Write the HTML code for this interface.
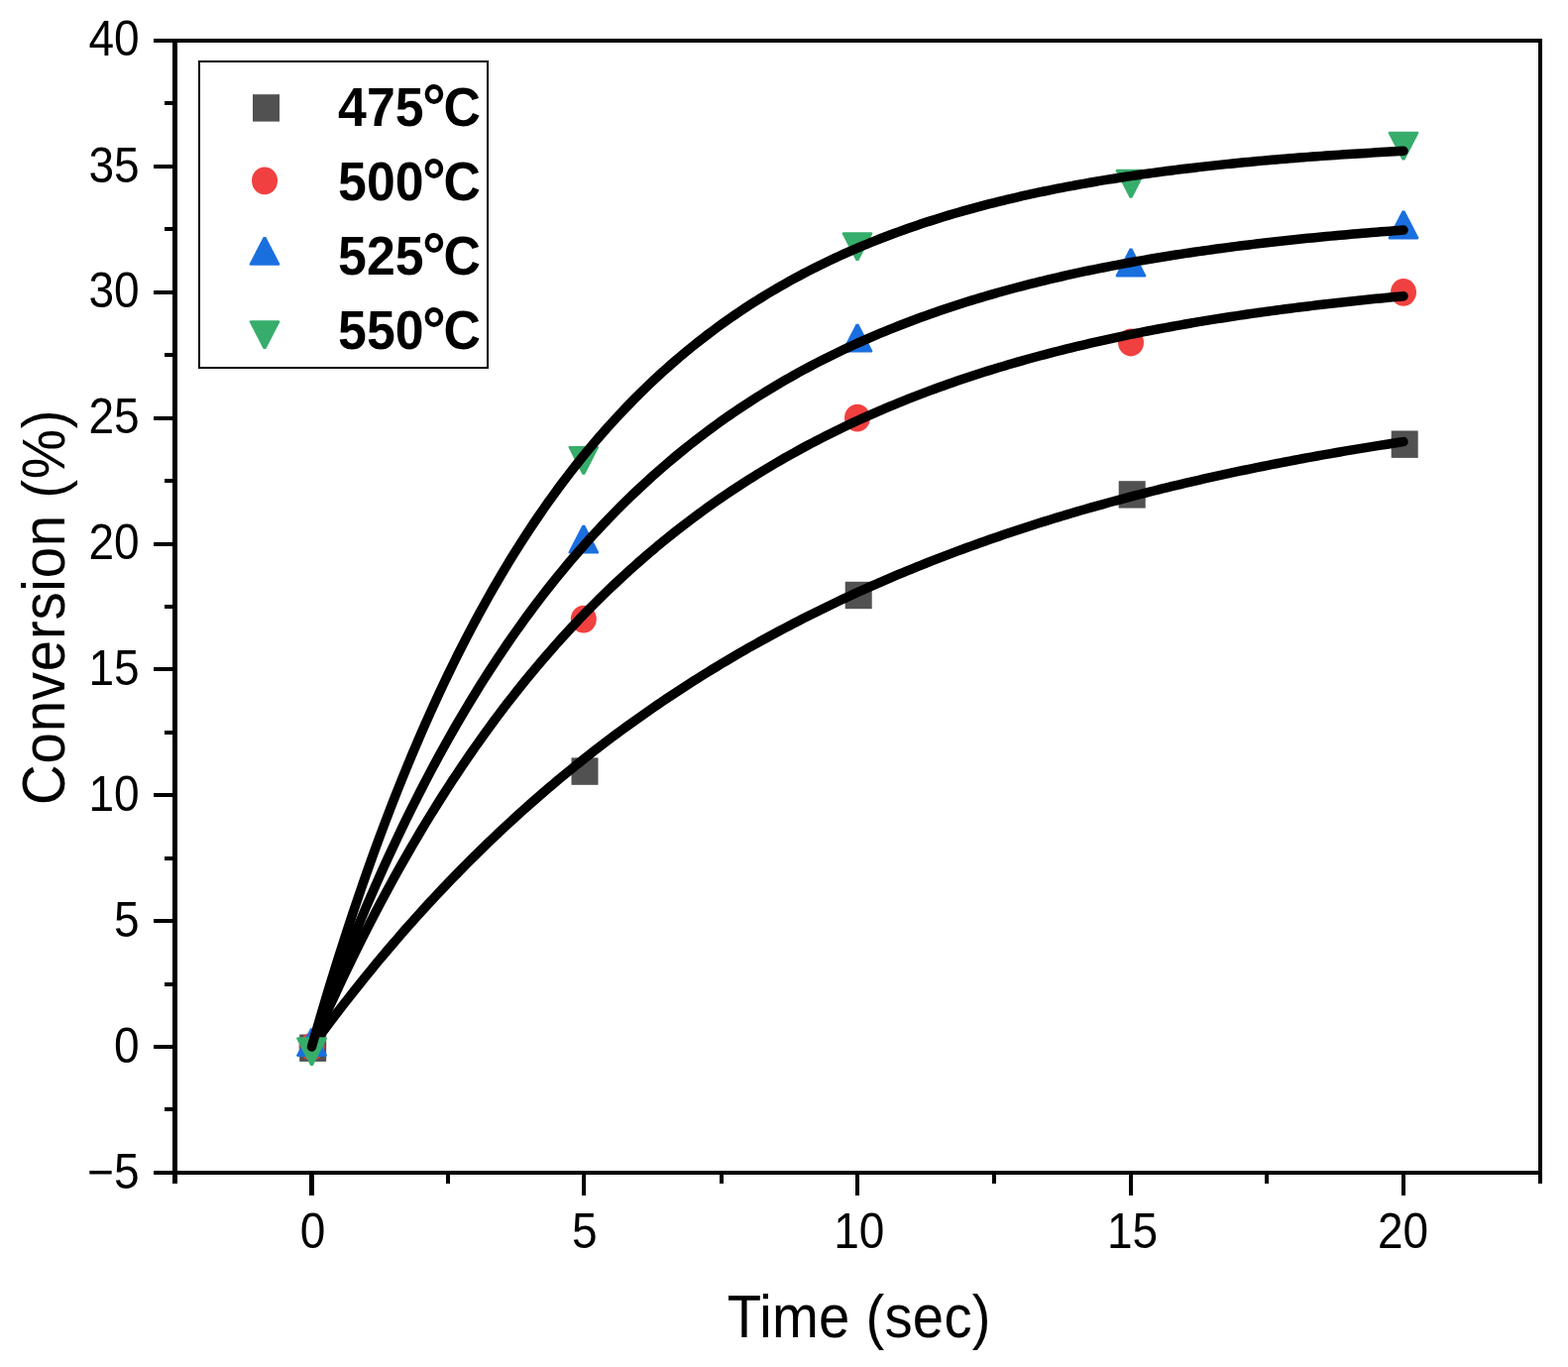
<!DOCTYPE html>
<html><head><meta charset="utf-8"><title>Conversion vs Time</title>
<style>html,body{margin:0;padding:0;background:#fff;width:1582px;height:1379px;overflow:hidden}</style>
</head><body>
<svg width="1582" height="1379" viewBox="0 0 1582 1379" style="display:block">
<rect x="0" y="0" width="1582" height="1379" fill="#fff"/>
<g fill="#000" shape-rendering="crispEdges">
<rect x="174" y="39" width="5" height="1155"/>
<rect x="1552" y="39" width="4" height="1155"/>
<rect x="155" y="39" width="1401" height="4"/>
<rect x="155" y="1181" width="1401" height="4"/>
<rect x="166" y="1117.4" width="8" height="4"/>
<rect x="155" y="1054.0" width="19" height="4"/>
<rect x="166" y="990.6" width="8" height="4"/>
<rect x="155" y="927.1" width="19" height="4"/>
<rect x="166" y="863.7" width="8" height="4"/>
<rect x="155" y="800.2" width="19" height="4"/>
<rect x="166" y="736.8" width="8" height="4"/>
<rect x="155" y="673.4" width="19" height="4"/>
<rect x="166" y="609.9" width="8" height="4"/>
<rect x="155" y="546.5" width="19" height="4"/>
<rect x="166" y="483.1" width="8" height="4"/>
<rect x="155" y="419.6" width="19" height="4"/>
<rect x="166" y="356.2" width="8" height="4"/>
<rect x="155" y="292.8" width="19" height="4"/>
<rect x="166" y="229.3" width="8" height="4"/>
<rect x="155" y="165.9" width="19" height="4"/>
<rect x="166" y="102.4" width="8" height="4"/>
<rect x="312" y="1185" width="5" height="21"/>
<rect x="587" y="1185" width="4" height="21"/>
<rect x="863" y="1185" width="4" height="21"/>
<rect x="1139" y="1185" width="4" height="21"/>
<rect x="1414" y="1185" width="4" height="21"/>
<rect x="450" y="1185" width="4" height="9"/>
<rect x="726" y="1185" width="4" height="9"/>
<rect x="1001" y="1185" width="4" height="9"/>
<rect x="1276" y="1185" width="4" height="9"/>
</g>
<g font-family='"Liberation Sans", Arial, sans-serif' font-size="49.5" fill="#000">
<text transform="translate(140.7,1198.5) scale(0.93,1)" text-anchor="end">−5</text>
<text transform="translate(140.7,1071.6) scale(0.93,1)" text-anchor="end">0</text>
<text transform="translate(140.7,944.7) scale(0.93,1)" text-anchor="end">5</text>
<text transform="translate(140.7,817.9) scale(0.93,1)" text-anchor="end">10</text>
<text transform="translate(140.7,691.0) scale(0.93,1)" text-anchor="end">15</text>
<text transform="translate(140.7,564.1) scale(0.93,1)" text-anchor="end">20</text>
<text transform="translate(140.7,437.2) scale(0.93,1)" text-anchor="end">25</text>
<text transform="translate(140.7,310.4) scale(0.93,1)" text-anchor="end">30</text>
<text transform="translate(140.7,183.5) scale(0.93,1)" text-anchor="end">35</text>
<text transform="translate(140.7,56.0) scale(0.93,1)" text-anchor="end">40</text>
<text transform="translate(315.50,1259) scale(0.93,1)" text-anchor="middle">0</text>
<text transform="translate(589.90,1259) scale(0.93,1)" text-anchor="middle">5</text>
<text transform="translate(866.75,1259) scale(0.93,1)" text-anchor="middle">10</text>
<text transform="translate(1142.60,1259) scale(0.93,1)" text-anchor="middle">15</text>
<text transform="translate(1415.50,1259) scale(0.93,1)" text-anchor="middle">20</text>
</g>
<g font-family='"Liberation Sans", Arial, sans-serif' font-size="61" fill="#000">
<text transform="translate(733.7,1349) scale(0.923,1)" letter-spacing="0.25">Time (sec)</text>
<text transform="translate(64.5,811.9) rotate(-90) scale(0.925,1)" letter-spacing="0.8">Conversion (%)</text>
</g>
<rect x="302.2" y="1043.5" width="27" height="27.4" fill="#515151"/>
<rect x="576.5" y="764.4" width="27" height="27.4" fill="#515151"/>
<rect x="852.7" y="586.8" width="27" height="27.4" fill="#515151"/>
<rect x="1128.7" y="485.2" width="27" height="27.4" fill="#515151"/>
<rect x="1403.7" y="434.5" width="27" height="27.4" fill="#515151"/>
<polyline points="314.50,1056.00 319.09,1049.72 323.68,1043.49 328.27,1037.33 332.86,1031.22 337.45,1025.16 342.04,1019.16 346.63,1013.22 351.22,1007.33 355.81,1001.49 360.40,995.71 364.99,989.98 369.57,984.30 374.16,978.68 378.75,973.10 383.34,967.58 387.93,962.11 392.52,956.69 397.11,951.31 401.70,945.99 406.29,940.72 410.88,935.49 415.47,930.31 420.06,925.18 424.65,920.10 429.24,915.06 433.83,910.07 438.42,905.13 443.01,900.23 447.60,895.37 452.19,890.56 456.78,885.80 461.37,881.07 465.96,876.39 470.55,871.76 475.14,867.16 479.73,862.61 484.31,858.10 488.90,853.63 493.49,849.20 498.08,844.82 502.67,840.47 507.26,836.16 511.85,831.89 516.44,827.67 521.03,823.48 525.62,819.32 530.21,815.21 534.80,811.13 539.39,807.10 543.98,803.09 548.57,799.13 553.16,795.20 557.75,791.31 562.34,787.45 566.93,783.63 571.52,779.84 576.11,776.09 580.70,772.37 585.29,768.69 589.88,765.04 594.46,761.42 599.05,757.84 603.64,754.29 608.23,750.77 612.82,747.29 617.41,743.83 622.00,740.41 626.59,737.02 631.18,733.66 635.77,730.33 640.36,727.03 644.95,723.77 649.54,720.53 654.13,717.32 658.72,714.14 663.31,710.99 667.90,707.87 672.49,704.78 677.08,701.71 681.67,698.68 686.26,695.67 690.85,692.69 695.44,689.73 700.03,686.81 704.61,683.91 709.20,681.03 713.79,678.19 718.38,675.37 722.97,672.57 727.56,669.80 732.15,667.06 736.74,664.34 741.33,661.65 745.92,658.98 750.51,656.33 755.10,653.71 759.69,651.12 764.28,648.54 768.87,645.99 773.46,643.47 778.05,640.97 782.64,638.49 787.23,636.03 791.82,633.60 796.41,631.18 801.00,628.79 805.59,626.43 810.17,624.08 814.76,621.75 819.35,619.45 823.94,617.17 828.53,614.91 833.12,612.67 837.71,610.45 842.30,608.25 846.89,606.07 851.48,603.91 856.07,601.77 860.66,599.65 865.25,597.54 869.84,595.46 874.43,593.40 879.02,591.36 883.61,589.33 888.20,587.32 892.79,585.34 897.38,583.37 901.97,581.41 906.56,579.48 911.15,577.56 915.74,575.67 920.33,573.78 924.91,571.92 929.50,570.07 934.09,568.24 938.68,566.43 943.27,564.63 947.86,562.85 952.45,561.09 957.04,559.34 961.63,557.61 966.22,555.89 970.81,554.19 975.40,552.51 979.99,550.84 984.58,549.19 989.17,547.55 993.76,545.92 998.35,544.31 1002.94,542.72 1007.53,541.14 1012.12,539.58 1016.71,538.03 1021.30,536.49 1025.89,534.97 1030.47,533.46 1035.06,531.96 1039.65,530.48 1044.24,529.02 1048.83,527.56 1053.42,526.12 1058.01,524.69 1062.60,523.28 1067.19,521.88 1071.78,520.49 1076.37,519.11 1080.96,517.75 1085.55,516.40 1090.14,515.06 1094.73,513.73 1099.32,512.42 1103.91,511.12 1108.50,509.83 1113.09,508.55 1117.68,507.28 1122.27,506.03 1126.86,504.79 1131.45,503.55 1136.04,502.33 1140.62,501.12 1145.21,499.93 1149.80,498.74 1154.39,497.56 1158.98,496.40 1163.57,495.24 1168.16,494.10 1172.75,492.96 1177.34,491.84 1181.93,490.73 1186.52,489.62 1191.11,488.53 1195.70,487.45 1200.29,486.37 1204.88,485.31 1209.47,484.26 1214.06,483.21 1218.65,482.18 1223.24,481.15 1227.83,480.14 1232.42,479.13 1237.01,478.14 1241.60,477.15 1246.19,476.17 1250.78,475.20 1255.36,474.24 1259.95,473.29 1264.54,472.34 1269.13,471.41 1273.72,470.48 1278.31,469.56 1282.90,468.65 1287.49,467.75 1292.08,466.86 1296.67,465.98 1301.26,465.10 1305.85,464.23 1310.44,463.37 1315.03,462.52 1319.62,461.67 1324.21,460.84 1328.80,460.01 1333.39,459.19 1337.98,458.37 1342.57,457.57 1347.16,456.77 1351.75,455.97 1356.34,455.19 1360.92,454.41 1365.51,453.64 1370.10,452.88 1374.69,452.12 1379.28,451.37 1383.87,450.63 1388.46,449.89 1393.05,449.16 1397.64,448.44 1402.23,447.73 1406.82,447.02 1411.41,446.31 1416.00,445.62" fill="none" stroke="#000" stroke-width="9.5" stroke-linecap="round" stroke-linejoin="round"/>
<ellipse cx="314.5" cy="1056.0" rx="13" ry="13.9" fill="#F14040"/>
<ellipse cx="588.8" cy="624.6" rx="13" ry="13.9" fill="#F14040"/>
<ellipse cx="865.0" cy="421.6" rx="13" ry="13.9" fill="#F14040"/>
<ellipse cx="1141.0" cy="345.5" rx="13" ry="13.9" fill="#F14040"/>
<ellipse cx="1416.0" cy="294.8" rx="13" ry="13.9" fill="#F14040"/>
<polyline points="314.50,1056.00 319.09,1045.46 323.68,1035.05 328.27,1024.79 332.86,1014.66 337.45,1004.67 342.04,994.81 346.63,985.08 351.22,975.49 355.81,966.02 360.40,956.68 364.99,947.46 369.57,938.37 374.16,929.40 378.75,920.55 383.34,911.81 387.93,903.20 392.52,894.70 397.11,886.31 401.70,878.03 406.29,869.87 410.88,861.81 415.47,853.87 420.06,846.03 424.65,838.29 429.24,830.66 433.83,823.13 438.42,815.70 443.01,808.37 447.60,801.13 452.19,794.00 456.78,786.96 461.37,780.01 465.96,773.16 470.55,766.40 475.14,759.72 479.73,753.14 484.31,746.65 488.90,740.24 493.49,733.92 498.08,727.68 502.67,721.53 507.26,715.46 511.85,709.47 516.44,703.56 521.03,697.73 525.62,691.97 530.21,686.30 534.80,680.70 539.39,675.17 543.98,669.72 548.57,664.34 553.16,659.04 557.75,653.80 562.34,648.64 566.93,643.54 571.52,638.51 576.11,633.55 580.70,628.66 585.29,623.83 589.88,619.06 594.46,614.36 599.05,609.72 603.64,605.15 608.23,600.63 612.82,596.18 617.41,591.78 622.00,587.45 626.59,583.17 631.18,578.95 635.77,574.79 640.36,570.68 644.95,566.62 649.54,562.62 654.13,558.68 658.72,554.79 663.31,550.94 667.90,547.15 672.49,543.42 677.08,539.73 681.67,536.09 686.26,532.50 690.85,528.95 695.44,525.46 700.03,522.01 704.61,518.61 709.20,515.25 713.79,511.94 718.38,508.67 722.97,505.44 727.56,502.26 732.15,499.12 736.74,496.03 741.33,492.97 745.92,489.96 750.51,486.98 755.10,484.05 759.69,481.16 764.28,478.30 768.87,475.48 773.46,472.70 778.05,469.96 782.64,467.25 787.23,464.58 791.82,461.95 796.41,459.35 801.00,456.78 805.59,454.25 810.17,451.76 814.76,449.29 819.35,446.86 823.94,444.46 828.53,442.10 833.12,439.76 837.71,437.46 842.30,435.19 846.89,432.95 851.48,430.74 856.07,428.56 860.66,426.40 865.25,424.28 869.84,422.18 874.43,420.12 879.02,418.08 883.61,416.06 888.20,414.08 892.79,412.12 897.38,410.19 901.97,408.28 906.56,406.40 911.15,404.54 915.74,402.71 920.33,400.90 924.91,399.12 929.50,397.36 934.09,395.62 938.68,393.91 943.27,392.22 947.86,390.56 952.45,388.91 957.04,387.29 961.63,385.69 966.22,384.11 970.81,382.55 975.40,381.01 979.99,379.50 984.58,378.00 989.17,376.52 993.76,375.07 998.35,373.63 1002.94,372.21 1007.53,370.81 1012.12,369.43 1016.71,368.07 1021.30,366.72 1025.89,365.40 1030.47,364.09 1035.06,362.80 1039.65,361.53 1044.24,360.27 1048.83,359.03 1053.42,357.81 1058.01,356.60 1062.60,355.41 1067.19,354.24 1071.78,353.08 1076.37,351.93 1080.96,350.81 1085.55,349.69 1090.14,348.60 1094.73,347.51 1099.32,346.44 1103.91,345.39 1108.50,344.35 1113.09,343.32 1117.68,342.31 1122.27,341.31 1126.86,340.32 1131.45,339.35 1136.04,338.39 1140.62,337.44 1145.21,336.51 1149.80,335.59 1154.39,334.68 1158.98,333.78 1163.57,332.90 1168.16,332.02 1172.75,331.16 1177.34,330.31 1181.93,329.47 1186.52,328.65 1191.11,327.83 1195.70,327.02 1200.29,326.23 1204.88,325.44 1209.47,324.67 1214.06,323.91 1218.65,323.15 1223.24,322.41 1227.83,321.68 1232.42,320.95 1237.01,320.24 1241.60,319.54 1246.19,318.84 1250.78,318.16 1255.36,317.48 1259.95,316.81 1264.54,316.15 1269.13,315.51 1273.72,314.86 1278.31,314.23 1282.90,313.61 1287.49,312.99 1292.08,312.39 1296.67,311.79 1301.26,311.20 1305.85,310.61 1310.44,310.04 1315.03,309.47 1319.62,308.91 1324.21,308.36 1328.80,307.81 1333.39,307.27 1337.98,306.74 1342.57,306.22 1347.16,305.70 1351.75,305.19 1356.34,304.69 1360.92,304.19 1365.51,303.71 1370.10,303.22 1374.69,302.75 1379.28,302.28 1383.87,301.81 1388.46,301.35 1393.05,300.90 1397.64,300.46 1402.23,300.02 1406.82,299.58 1411.41,299.16 1416.00,298.73" fill="none" stroke="#000" stroke-width="9.5" stroke-linecap="round" stroke-linejoin="round"/>
<polygon points="313.2,1037.2 315.8,1037.2 330.0,1064.8 329.0,1066.0 300.0,1066.0 299.0,1064.8" fill="#1A6FDF"/>
<polygon points="587.5,529.7 590.1,529.7 604.3,557.3 603.3,558.5 574.3,558.5 573.3,557.3" fill="#1A6FDF"/>
<polygon points="863.7,326.7 866.3,326.7 880.5,354.3 879.5,355.6 850.5,355.6 849.5,354.3" fill="#1A6FDF"/>
<polygon points="1139.7,250.6 1142.3,250.6 1156.5,278.2 1155.5,279.4 1126.5,279.4 1125.5,278.2" fill="#1A6FDF"/>
<polygon points="1414.7,212.5 1417.3,212.5 1431.5,240.1 1430.5,241.4 1401.5,241.4 1400.5,240.1" fill="#1A6FDF"/>
<polyline points="314.50,1056.00 319.09,1043.21 323.68,1030.62 328.27,1018.22 332.86,1006.00 337.45,993.97 342.04,982.12 346.63,970.45 351.22,958.96 355.81,947.64 360.40,936.49 364.99,925.51 369.57,914.70 374.16,904.05 378.75,893.56 383.34,883.23 387.93,873.05 392.52,863.03 397.11,853.16 401.70,843.44 406.29,833.87 410.88,824.44 415.47,815.15 420.06,806.01 424.65,797.00 429.24,788.13 433.83,779.39 438.42,770.79 443.01,762.32 447.60,753.97 452.19,745.75 456.78,737.65 461.37,729.68 465.96,721.83 470.55,714.09 475.14,706.47 479.73,698.97 484.31,691.58 488.90,684.31 493.49,677.14 498.08,670.08 502.67,663.13 507.26,656.28 511.85,649.54 516.44,642.90 521.03,636.36 525.62,629.91 530.21,623.57 534.80,617.32 539.39,611.17 543.98,605.11 548.57,599.14 553.16,593.26 557.75,587.47 562.34,581.76 566.93,576.15 571.52,570.61 576.11,565.17 580.70,559.80 585.29,554.52 589.88,549.31 594.46,544.19 599.05,539.14 603.64,534.16 608.23,529.27 612.82,524.44 617.41,519.69 622.00,515.02 626.59,510.41 631.18,505.87 635.77,501.40 640.36,497.00 644.95,492.67 649.54,488.40 654.13,484.19 658.72,480.05 663.31,475.97 667.90,471.95 672.49,468.00 677.08,464.10 681.67,460.26 686.26,456.48 690.85,452.76 695.44,449.09 700.03,445.48 704.61,441.93 709.20,438.42 713.79,434.98 718.38,431.58 722.97,428.23 727.56,424.94 732.15,421.69 736.74,418.49 741.33,415.35 745.92,412.25 750.51,409.19 755.10,406.18 759.69,403.22 764.28,400.31 768.87,397.43 773.46,394.60 778.05,391.82 782.64,389.07 787.23,386.37 791.82,383.70 796.41,381.08 801.00,378.50 805.59,375.96 810.17,373.45 814.76,370.98 819.35,368.55 823.94,366.16 828.53,363.80 833.12,361.48 837.71,359.20 842.30,356.95 846.89,354.73 851.48,352.54 856.07,350.39 860.66,348.27 865.25,346.19 869.84,344.13 874.43,342.11 879.02,340.12 883.61,338.15 888.20,336.22 892.79,334.31 897.38,332.44 901.97,330.59 906.56,328.77 911.15,326.98 915.74,325.22 920.33,323.48 924.91,321.77 929.50,320.08 934.09,318.42 938.68,316.79 943.27,315.18 947.86,313.59 952.45,312.03 957.04,310.49 961.63,308.97 966.22,307.48 970.81,306.01 975.40,304.56 979.99,303.14 984.58,301.73 989.17,300.35 993.76,298.99 998.35,297.65 1002.94,296.33 1007.53,295.03 1012.12,293.75 1016.71,292.48 1021.30,291.24 1025.89,290.02 1030.47,288.81 1035.06,287.62 1039.65,286.45 1044.24,285.30 1048.83,284.17 1053.42,283.05 1058.01,281.95 1062.60,280.87 1067.19,279.80 1071.78,278.75 1076.37,277.71 1080.96,276.69 1085.55,275.69 1090.14,274.70 1094.73,273.72 1099.32,272.77 1103.91,271.82 1108.50,270.89 1113.09,269.97 1117.68,269.07 1122.27,268.18 1126.86,267.31 1131.45,266.44 1136.04,265.59 1140.62,264.76 1145.21,263.93 1149.80,263.12 1154.39,262.32 1158.98,261.54 1163.57,260.76 1168.16,260.00 1172.75,259.25 1177.34,258.51 1181.93,257.78 1186.52,257.06 1191.11,256.35 1195.70,255.65 1200.29,254.97 1204.88,254.29 1209.47,253.63 1214.06,252.97 1218.65,252.33 1223.24,251.69 1227.83,251.06 1232.42,250.45 1237.01,249.84 1241.60,249.24 1246.19,248.65 1250.78,248.07 1255.36,247.50 1259.95,246.94 1264.54,246.38 1269.13,245.84 1273.72,245.30 1278.31,244.77 1282.90,244.25 1287.49,243.73 1292.08,243.23 1296.67,242.73 1301.26,242.24 1305.85,241.76 1310.44,241.28 1315.03,240.81 1319.62,240.35 1324.21,239.90 1328.80,239.45 1333.39,239.01 1337.98,238.57 1342.57,238.14 1347.16,237.72 1351.75,237.31 1356.34,236.90 1360.92,236.50 1365.51,236.10 1370.10,235.71 1374.69,235.32 1379.28,234.95 1383.87,234.57 1388.46,234.21 1393.05,233.84 1397.64,233.49 1402.23,233.14 1406.82,232.79 1411.41,232.45 1416.00,232.11" fill="none" stroke="#000" stroke-width="9.5" stroke-linecap="round" stroke-linejoin="round"/>
<polygon points="299.0,1047.4 300.0,1046.2 329.0,1046.2 330.0,1047.4 315.8,1075.1 313.2,1075.1" fill="#37AD6B"/>
<polygon points="573.3,451.1 574.3,449.9 603.3,449.9 604.3,451.1 590.1,478.8 587.5,478.8" fill="#37AD6B"/>
<polygon points="849.5,235.4 850.5,234.2 879.5,234.2 880.5,235.4 866.3,263.1 863.7,263.1" fill="#37AD6B"/>
<polygon points="1125.5,172.0 1126.5,170.8 1155.5,170.8 1156.5,172.0 1142.3,199.7 1139.7,199.7" fill="#37AD6B"/>
<polygon points="1400.5,133.9 1401.5,132.7 1430.5,132.7 1431.5,133.9 1417.3,161.6 1414.7,161.6" fill="#37AD6B"/>
<polyline points="314.50,1056.00 319.09,1040.02 323.68,1024.32 328.27,1008.90 332.86,993.74 337.45,978.84 342.04,964.21 346.63,949.83 351.22,935.70 355.81,921.82 360.40,908.18 364.99,894.78 369.57,881.61 374.16,868.67 378.75,855.95 383.34,843.46 387.93,831.18 392.52,819.12 397.11,807.27 401.70,795.63 406.29,784.18 410.88,772.94 415.47,761.89 420.06,751.04 424.65,740.37 429.24,729.89 433.83,719.60 438.42,709.48 443.01,699.54 447.60,689.77 452.19,680.17 456.78,670.74 461.37,661.48 465.96,652.37 470.55,643.42 475.14,634.63 479.73,626.00 484.31,617.51 488.90,609.17 493.49,600.98 498.08,592.93 502.67,585.01 507.26,577.24 511.85,569.60 516.44,562.10 521.03,554.73 525.62,547.48 530.21,540.36 534.80,533.37 539.39,526.49 543.98,519.74 548.57,513.10 553.16,506.58 557.75,500.18 562.34,493.88 566.93,487.70 571.52,481.62 576.11,475.65 580.70,469.78 585.29,464.02 589.88,458.35 594.46,452.78 599.05,447.31 603.64,441.94 608.23,436.66 612.82,431.47 617.41,426.37 622.00,421.36 626.59,416.44 631.18,411.61 635.77,406.85 640.36,402.19 644.95,397.60 649.54,393.09 654.13,388.66 658.72,384.31 663.31,380.03 667.90,375.83 672.49,371.70 677.08,367.64 681.67,363.66 686.26,359.74 690.85,355.89 695.44,352.11 700.03,348.40 704.61,344.75 709.20,341.16 713.79,337.63 718.38,334.17 722.97,330.77 727.56,327.42 732.15,324.14 736.74,320.91 741.33,317.74 745.92,314.62 750.51,311.56 755.10,308.55 759.69,305.59 764.28,302.69 768.87,299.84 773.46,297.03 778.05,294.27 782.64,291.57 787.23,288.91 791.82,286.29 796.41,283.72 801.00,281.20 805.59,278.72 810.17,276.28 814.76,273.89 819.35,271.54 823.94,269.22 828.53,266.95 833.12,264.72 837.71,262.53 842.30,260.37 846.89,258.26 851.48,256.17 856.07,254.13 860.66,252.12 865.25,250.15 869.84,248.21 874.43,246.30 879.02,244.43 883.61,242.59 888.20,240.79 892.79,239.01 897.38,237.26 901.97,235.55 906.56,233.86 911.15,232.21 915.74,230.58 920.33,228.98 924.91,227.41 929.50,225.87 934.09,224.36 938.68,222.87 943.27,221.40 947.86,219.96 952.45,218.55 957.04,217.16 961.63,215.80 966.22,214.46 970.81,213.14 975.40,211.84 979.99,210.57 984.58,209.32 989.17,208.10 993.76,206.89 998.35,205.70 1002.94,204.54 1007.53,203.39 1012.12,202.27 1016.71,201.16 1021.30,200.08 1025.89,199.01 1030.47,197.96 1035.06,196.93 1039.65,195.92 1044.24,194.93 1048.83,193.95 1053.42,192.99 1058.01,192.05 1062.60,191.12 1067.19,190.21 1071.78,189.31 1076.37,188.44 1080.96,187.57 1085.55,186.72 1090.14,185.89 1094.73,185.07 1099.32,184.26 1103.91,183.47 1108.50,182.69 1113.09,181.93 1117.68,181.18 1122.27,180.44 1126.86,179.72 1131.45,179.01 1136.04,178.31 1140.62,177.62 1145.21,176.94 1149.80,176.28 1154.39,175.63 1158.98,174.99 1163.57,174.36 1168.16,173.74 1172.75,173.13 1177.34,172.53 1181.93,171.95 1186.52,171.37 1191.11,170.80 1195.70,170.25 1200.29,169.70 1204.88,169.16 1209.47,168.63 1214.06,168.11 1218.65,167.60 1223.24,167.10 1227.83,166.61 1232.42,166.13 1237.01,165.65 1241.60,165.18 1246.19,164.73 1250.78,164.27 1255.36,163.83 1259.95,163.40 1264.54,162.97 1269.13,162.55 1273.72,162.14 1278.31,161.73 1282.90,161.33 1287.49,160.94 1292.08,160.55 1296.67,160.18 1301.26,159.80 1305.85,159.44 1310.44,159.08 1315.03,158.73 1319.62,158.38 1324.21,158.04 1328.80,157.71 1333.39,157.38 1337.98,157.05 1342.57,156.74 1347.16,156.43 1351.75,156.12 1356.34,155.82 1360.92,155.52 1365.51,155.23 1370.10,154.95 1374.69,154.67 1379.28,154.39 1383.87,154.12 1388.46,153.85 1393.05,153.59 1397.64,153.34 1402.23,153.08 1406.82,152.83 1411.41,152.59 1416.00,152.35" fill="none" stroke="#000" stroke-width="9.5" stroke-linecap="round" stroke-linejoin="round"/>
<rect x="201" y="62" width="291" height="309" fill="none" stroke="#000" stroke-width="2" shape-rendering="crispEdges"/>
<rect x="255.0" y="95.2" width="27" height="27.4" fill="#515151"/>
<ellipse cx="267.0" cy="182.4" rx="13" ry="13.9" fill="#F14040"/>
<polygon points="265.7,238.9 268.3,238.9 282.5,266.5 281.5,267.8 252.5,267.8 251.5,266.5" fill="#1A6FDF"/>
<polygon points="251.5,324.4 252.5,323.2 281.5,323.2 282.5,324.4 268.3,352.1 265.7,352.1" fill="#37AD6B"/>
<g font-family='"Liberation Sans", Arial, sans-serif' font-weight="bold" font-size="56" fill="#000">
<text transform="translate(341.1,127.3) scale(0.925,1)">475<tspan x="91.9" font-size="64.4" dy="3.1">°</tspan><tspan x="114.9" dy="-3.1">C</tspan></text>
<text transform="translate(341.1,202.3) scale(0.925,1)">500<tspan x="91.9" font-size="64.4" dy="3.1">°</tspan><tspan x="114.9" dy="-3.1">C</tspan></text>
<text transform="translate(341.1,277.3) scale(0.925,1)">525<tspan x="91.9" font-size="64.4" dy="3.1">°</tspan><tspan x="114.9" dy="-3.1">C</tspan></text>
<text transform="translate(341.1,352.3) scale(0.925,1)">550<tspan x="91.9" font-size="64.4" dy="3.1">°</tspan><tspan x="114.9" dy="-3.1">C</tspan></text>
</g>
</svg>
</body></html>
